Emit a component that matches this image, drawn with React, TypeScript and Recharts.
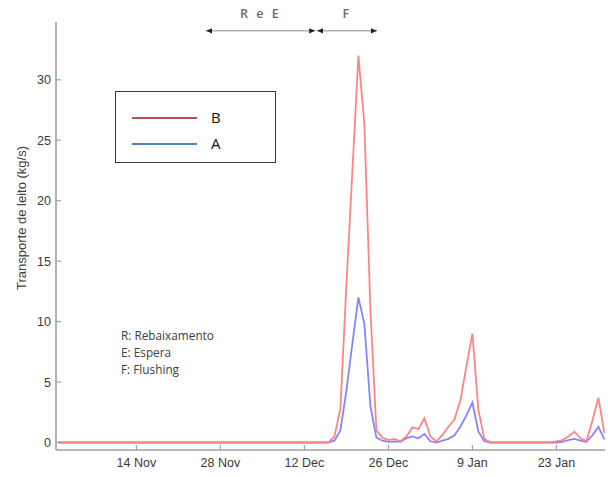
import { LineChart, Line, XAxis, YAxis, Legend, ReferenceLine, Label } from "recharts";

// day 0 = 1 Nov
const days = [0, 45, 46, 47, 48, 49, 50, 51, 52, 53, 54, 55, 56, 57, 58, 59, 60, 61, 62, 63, 64, 65, 66, 67, 68, 69, 70, 71, 72, 82, 83, 84, 85, 86, 87, 88, 89, 90, 91];
const seriesB = [0, 0, 0.5, 2.8, 13, 22.5, 32, 26.3, 11, 1.0, 0.4, 0.2, 0.3, 0.1, 0.5, 1.25, 1.1, 2.0, 0.5, 0.1, 0.6, 1.3, 1.9, 3.5, 6.3, 9.0, 2.7, 0.3, 0, 0, 0.1, 0.2, 0.5, 0.9, 0.35, 0.1, 1.8, 3.7, 0.75];
const seriesA = [0, 0, 0.15, 1.0, 4.3, 8.2, 12.0, 9.8, 3.0, 0.4, 0.15, 0.05, 0.1, 0.05, 0.35, 0.5, 0.35, 0.7, 0.1, 0.0, 0.15, 0.3, 0.6, 1.3, 2.25, 3.3, 0.9, 0.1, 0, 0, 0, 0.05, 0.2, 0.3, 0.15, 0.05, 0.6, 1.3, 0.25];

const tickDays = [13, 27, 41, 55, 69, 83];
const tickLabels = ["14 Nov", "28 Nov", "12 Dec", "26 Dec", "9 Jan", "23 Jan"];
const yTicks = [0, 5, 10, 15, 20, 25, 30];

const legendNames = ["B", "A"];
const legendColors = ["#c0504d", "#4f81bd"];
const notes = ["R: Rebaixamento", "E: Espera", "F: Flushing"];

// phase arrows: [label, startDay, endDay]
const phases: [string, number, number][] = [
  ["R e E", 24.6, 42.8],
  ["F", 43.1, 53.1],
];
const phaseLevel = 34.05;

const data = days.map((d, i) => ({ day: d, A: seriesA[i], B: seriesB[i] }));

const FONT = "'Liberation Sans', Arial, sans-serif";
const AXIS = "#a0a0a0";
const TICK_TEXT = "#3a3a3a";
const X_MARGIN = 8;
const Y_MARGIN = 5;

function XTick(props: any) {
  const { x, y, payload } = props;
  const axisY = y - X_MARGIN;
  const label = tickLabels[tickDays.indexOf(payload.value)];
  return (
    <g>
      <line x1={x} x2={x} y1={axisY} y2={axisY - 5} stroke={AXIS} strokeWidth={1.2} />
      <text x={x} y={y} dy={9} textAnchor="middle" fill={TICK_TEXT} fontSize={12.5} fontFamily={FONT}>
        {label}
      </text>
    </g>
  );
}

function YTick(props: any) {
  const { x, y, payload } = props;
  const axisX = x + Y_MARGIN;
  return (
    <g>
      <line x1={axisX} x2={axisX + 5} y1={y} y2={y} stroke={AXIS} strokeWidth={1.2} />
      <text x={x} y={y} dy={4.5} textAnchor="end" fill={TICK_TEXT} fontSize={12.5} fontFamily={FONT}>
        {payload.value}
      </text>
    </g>
  );
}

function Arrow(props: any, label: string) {
  const { x1, y1, x2 } = props;
  const h = 6;
  const w = 2.6;
  return (
    <g>
      <line x1={x1} x2={x2} y1={y1} y2={y1} stroke="#8a8a8a" strokeWidth={1} />
      <polygon points={`${x1},${y1} ${x1 + h},${y1 - w} ${x1 + h},${y1 + w}`} fill="#222" />
      <polygon points={`${x2},${y1} ${x2 - h},${y1 - w} ${x2 - h},${y1 + w}`} fill="#222" />
      <text
        x={(x1 + x2) / 2}
        y={y1 - 13}
        textAnchor="middle"
        fill="#6a6a6a"
        fontSize={12.5}
        fontWeight={600}
        letterSpacing={2.5}
        fontFamily="'Open Sans', sans-serif"
      >
        {label}
      </text>
    </g>
  );
}

function LegendBox() {
  return (
    <div
      style={{
        width: 161,
        height: 72,
        border: "1px solid #3a3a3a",
        boxSizing: "border-box",
        background: "#fff",
        position: "relative",
        fontFamily: "'Open Sans', sans-serif",
      }}
    >
      {legendNames.map((name, i) => (
        <div key={name}>
          <div
            style={{
              position: "absolute",
              left: 16,
              top: 25 + i * 26,
              width: 65,
              height: 2,
              background: legendColors[i],
            }}
          />
          <div
            style={{
              position: "absolute",
              left: 95,
              top: 15 + i * 26,
              fontSize: 15,
              lineHeight: "20px",
              color: "#111",
            }}
          >
            {name}
          </div>
        </div>
      ))}
    </div>
  );
}

function YLabel(props: any) {
  const vb = props.viewBox;
  const cx = vb.x + 21.7;
  const cy = 218;
  return (
    <text
      x={cx}
      y={cy}
      transform={`rotate(-90 ${cx} ${cy})`}
      textAnchor="middle"
      dominantBaseline="central"
      fill="#404040"
      fontSize={13}
      fontFamily={FONT}
    >
      Transporte de leito (kg/s)
    </text>
  );
}

export default function App() {
  return (
    <div style={{ position: "absolute", left: 0, top: 0, width: 608, height: 477, background: "#fff" }}>
      <LineChart width={608} height={477} data={data} margin={{ top: 22, right: 3, bottom: 0, left: 0 }}>
        <XAxis
          dataKey="day"
          type="number"
          domain={[-0.4, 91.1]}
          ticks={tickDays}
          interval={0}
          height={27}
          tickSize={0}
          tickMargin={X_MARGIN}
          tickLine={false}
          axisLine={{ stroke: AXIS, strokeWidth: 1.6 }}
          tick={<XTick />}
          allowDataOverflow
        />
        <YAxis
          type="number"
          domain={[-0.62, 34.78]}
          ticks={yTicks}
          interval={0}
          width={56}
          tickSize={0}
          tickMargin={Y_MARGIN}
          tickLine={false}
          axisLine={{ stroke: AXIS, strokeWidth: 1.6 }}
          tick={<YTick />}
          allowDataOverflow
        >
          <Label content={<YLabel />} />
        </YAxis>
        <Legend
          layout="vertical"
          align="center"
          verticalAlign="middle"
          width={161}
          height={72}
          wrapperStyle={{ left: 115, top: 91, width: 161, height: 72 }}
          content={() => <LegendBox />}
        />
        {phases.map(([label, s, e]) => (
          <ReferenceLine
            key={label}
            segment={[
              { x: s, y: phaseLevel },
              { x: e, y: phaseLevel },
            ]}
            shape={(p: any) => Arrow(p, label)}
          />
        ))}
        <Line
          type="linear"
          dataKey="A"
          stroke="#8585ff"
          strokeWidth={1.8}
          dot={false}
          activeDot={false}
          isAnimationActive={false}
          legendType="none"
        />
        <Line
          type="linear"
          dataKey="B"
          stroke="#ff8585"
          strokeWidth={1.8}
          dot={false}
          activeDot={false}
          isAnimationActive={false}
          legendType="none"
        />
      </LineChart>
      <div
        style={{
          position: "absolute",
          left: 121,
          top: 327,
          fontFamily: "'Open Sans', sans-serif",
          fontSize: 11.8,
          lineHeight: "17px",
          color: "#404040",
        }}
      >
        {notes.map((n) => (
          <div key={n}>{n}</div>
        ))}
      </div>
    </div>
  );
}
